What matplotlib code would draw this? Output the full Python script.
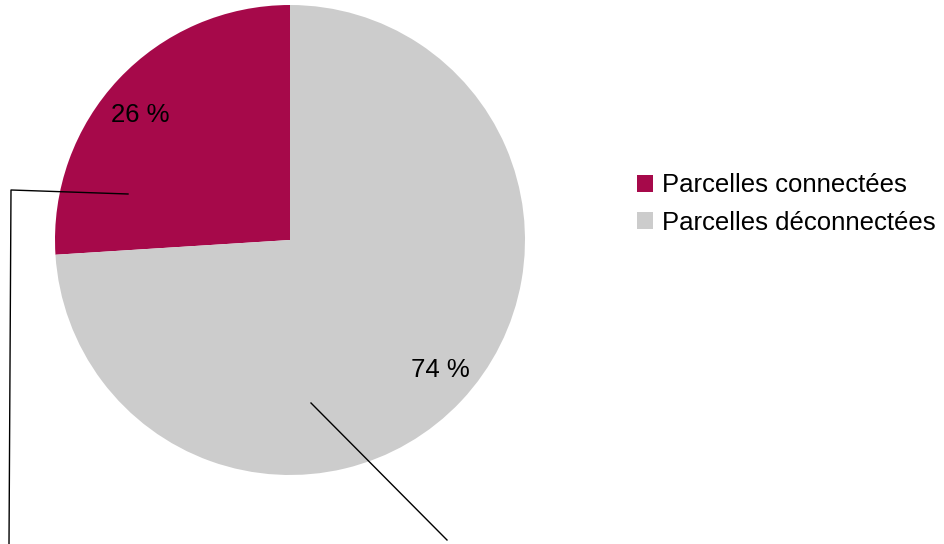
import matplotlib
matplotlib.use("Agg")
import matplotlib.pyplot as plt
from matplotlib.patches import Patch

plt.rcParams['font.family'] = ['Liberation Sans', 'DejaVu Sans']

labels = ['Parcelles connectées', 'Parcelles déconnectées']
values = [26, 74]
colors = ['#A6094A', '#CCCCCC']

W, H = 945, 544
fig = plt.figure(figsize=(W / 100, H / 100), dpi=100)
ax = fig.add_axes([0, 0, 1, 1])

# pie drawn in pixel-like coords (y up)
cx, cy, r = 290, H - 240, 235
wedges, texts, autotexts = ax.pie(values, colors=colors, startangle=90, counterclock=True,
                                  center=(cx, cy), radius=r, autopct='%d %%', pctdistance=0.84,
                                  textprops={'fontsize': 18.5, 'color': '#000000'})
autotexts[0].set_position((140, H - 115))
autotexts[1].set_position((440, H - 370))

# leftover leader lines
ax.plot([128, 11, 9], [H - 194, H - 190, H - 544], color='black', lw=1)
ax.plot([311, 447], [H - 403, H - 540], color='black', lw=1)

ax.set_xlim(0, W)
ax.set_ylim(0, H)
ax.set_aspect('auto')
ax.axis('off')

handles = [Patch(facecolor=c, edgecolor='none') for c in colors]
fig.legend(handles, labels, loc='center left', bbox_to_anchor=(637 / W, 1 - 204 / H),
           frameon=False, fontsize=18.5, handlelength=0.62, handleheight=0.62,
           handletextpad=0.35, labelspacing=0.52, borderpad=0, borderaxespad=0)

fig.savefig('out.png', dpi=100)
